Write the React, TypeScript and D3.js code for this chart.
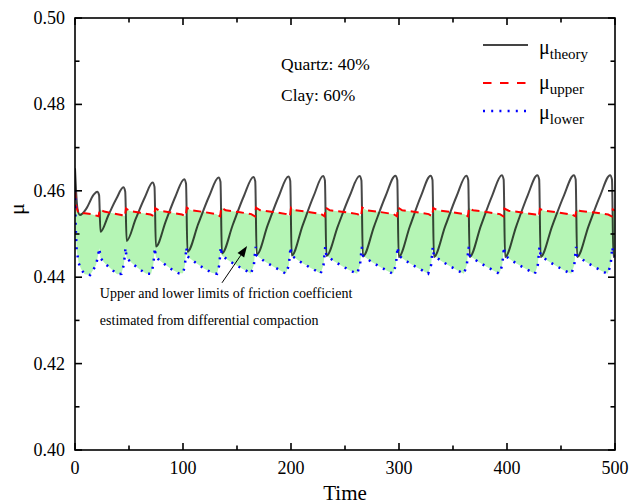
import React, { useEffect, useRef } from "react";
import * as d3 from "d3";

// [time, mu]
const theory: [number, number][] = [
  [0, 0.4652], [1, 0.46], [2.2, 0.456], [4.6, 0.4544], [10.8, 0.456], [17, 0.459], [20.6, 0.4598], [22.3, 0.459],
  [23.6, 0.4505], [31.0, 0.4544], [38.4, 0.4582], [44.8, 0.4608], [46.5, 0.4598],
  [47.8, 0.4484], [56.2, 0.4535], [64.7, 0.4585], [71.9, 0.4619], [73.6, 0.4609],
  [74.9, 0.4471], [84.1, 0.453], [93.2, 0.4588], [101.1, 0.4627], [102.8, 0.4617],
  [104.1, 0.4459], [114.2, 0.4524], [124.3, 0.4588], [133.0, 0.4631], [134.7, 0.4621],
  [136.0, 0.4455], [146.2, 0.4522], [156.4, 0.4588], [165.2, 0.4632], [166.9, 0.4622],
  [168.2, 0.4452], [178.5, 0.4521], [188.8, 0.4588], [197.6, 0.4633], [199.3, 0.4623],
  [200.6, 0.445], [210.8, 0.452], [221.0, 0.4588], [229.7, 0.4634], [231.4, 0.4624],
  [232.7, 0.4449], [243.5, 0.4519], [254.3, 0.4588], [263.5, 0.4634], [265.2, 0.4624],
  [266.5, 0.4448], [277.1, 0.4519], [287.6, 0.4588], [296.7, 0.4635], [298.4, 0.4625],
  [299.7, 0.4447], [310.1, 0.4518], [320.4, 0.4588], [329.3, 0.4635], [331.0, 0.4625],
  [332.3, 0.4447], [342.8, 0.4518], [353.4, 0.4588], [362.4, 0.4635], [364.1, 0.4625],
  [365.4, 0.4447], [375.8, 0.4519], [386.3, 0.4589], [395.2, 0.4636], [396.9, 0.4626],
  [398.2, 0.4447], [408.7, 0.4519], [419.1, 0.4589], [428.1, 0.4636], [429.8, 0.4626],
  [431.1, 0.4447], [441.9, 0.4519], [452.7, 0.4589], [461.9, 0.4636], [463.6, 0.4626],
  [464.9, 0.4447], [475.6, 0.4519], [486.3, 0.4589], [495.5, 0.4636], [497.2, 0.4626],
  [498.5, 0.4447], [500, 0.4452],
];

const upper: [number, number][] = [
  [0, 0.4598], [1, 0.4565], [3, 0.4549], [9, 0.4548], [15, 0.4546], [21.8, 0.4541],
  [23.0, 0.4557], [27, 0.4552], [35, 0.4548], [43, 0.4544], [46.2, 0.4541],
  [47.2, 0.4559], [51, 0.4553], [60.5, 0.4549], [70, 0.4545], [73.3, 0.4541],
  [74.3, 0.456], [78, 0.4554], [88.7, 0.455], [99, 0.4545], [102.5, 0.4541],
  [103.5, 0.4561], [107.5, 0.4555], [119.2, 0.4551], [131, 0.4546], [134.4, 0.4541],
  [135.4, 0.4561], [139.5, 0.4555], [151.3, 0.4551], [163.2, 0.4546], [166.6, 0.4541],
  [167.6, 0.4561], [171.5, 0.4555], [183.6, 0.4551], [195.8, 0.4546], [199.0, 0.4541],
  [200.0, 0.4561], [204, 0.4555], [215.9, 0.4551], [227.9, 0.4546], [231.1, 0.4541],
  [232.1, 0.4561], [236, 0.4555], [248.8, 0.4551], [261.7, 0.4546], [264.9, 0.4541],
  [265.9, 0.4561], [270, 0.4555], [282.3, 0.4551], [294.9, 0.4546], [298.1, 0.4541],
  [299.1, 0.4561], [303, 0.4555], [315.2, 0.4551], [327.5, 0.4546], [330.7, 0.4541],
  [331.7, 0.456], [335.5, 0.4555], [348, 0.4551], [360.6, 0.4546], [363.8, 0.4541],
  [364.8, 0.456], [368.5, 0.4555], [381, 0.4551], [393.4, 0.4546], [396.6, 0.4541],
  [397.6, 0.4559], [401.5, 0.4554], [413.8, 0.455], [426.3, 0.4545], [429.5, 0.4541],
  [430.5, 0.4558], [434.5, 0.4554], [447.2, 0.455], [460.1, 0.4545], [463.3, 0.4541],
  [464.3, 0.4557], [468, 0.4553], [480.9, 0.455], [493.7, 0.4545], [496.9, 0.4541],
  [497.9, 0.4557], [500, 0.4554],
];

const lower: [number, number][] = [
  [0, 0.4602], [0.6, 0.452], [1.5, 0.4463], [3.5, 0.4432], [6, 0.4417], [9, 0.4407], [14, 0.4405], [19.5, 0.4428], [22.6, 0.4467],
  [23.6, 0.4444], [28.5, 0.443], [34, 0.4418], [39, 0.4407], [43, 0.4408], [45.3, 0.443], [46.8, 0.4468],
  [47.8, 0.4444], [54, 0.443], [60, 0.4418], [66, 0.4408], [70.5, 0.4408], [72.5, 0.4428], [73.9, 0.4468],
  [74.9, 0.4446], [82, 0.4432], [89, 0.4419], [96, 0.4409], [100, 0.4409], [101.8, 0.4428], [103.1, 0.4469],
  [104.1, 0.4448], [111.5, 0.4434], [119, 0.4421], [127, 0.441], [131.5, 0.4408], [133.6, 0.4428], [135.0, 0.447],
  [136.0, 0.445], [143.2, 0.4437], [151.2, 0.4425], [159.2, 0.4414], [162.9, 0.4408], [165.6, 0.4428], [167.2, 0.447],
  [168.2, 0.445], [175.4, 0.4437], [183.4, 0.4425], [191.4, 0.4414], [195.3, 0.4408], [198.0, 0.4428], [199.6, 0.447],
  [200.6, 0.445], [207.8, 0.4437], [215.8, 0.4425], [223.8, 0.4414], [227.4, 0.4408], [230.1, 0.4428], [231.7, 0.447],
  [232.7, 0.445], [239.9, 0.4437], [247.9, 0.4425], [255.9, 0.4414], [261.2, 0.4408], [263.9, 0.4428], [265.5, 0.447],
  [266.5, 0.445], [273.7, 0.4437], [281.7, 0.4425], [289.7, 0.4414], [294.4, 0.4408], [297.1, 0.4428], [298.7, 0.447],
  [299.7, 0.445], [306.9, 0.4437], [314.9, 0.4425], [322.9, 0.4414], [327.0, 0.4408], [329.7, 0.4428], [331.3, 0.447],
  [332.3, 0.445], [339.5, 0.4437], [347.5, 0.4425], [355.5, 0.4414], [360.1, 0.4408], [362.8, 0.4428], [364.4, 0.447],
  [365.4, 0.445], [372.6, 0.4437], [380.6, 0.4425], [388.6, 0.4414], [392.9, 0.4408], [395.6, 0.4428], [397.2, 0.447],
  [398.2, 0.445], [405.4, 0.4437], [413.4, 0.4425], [421.4, 0.4414], [425.8, 0.4408], [428.5, 0.4428], [430.1, 0.447],
  [431.1, 0.445], [438.3, 0.4437], [446.3, 0.4425], [454.3, 0.4414], [459.6, 0.4408], [462.3, 0.4428], [463.9, 0.447],
  [464.9, 0.445], [472.1, 0.4437], [480.1, 0.4425], [488.1, 0.4414], [493.2, 0.4408], [495.9, 0.4428], [497.5, 0.447],
  [498.5, 0.445], [500, 0.4448],
];

const xTicks = [0, 100, 200, 300, 400, 500];
const xMinor = [50, 150, 250, 350, 450];
const yTicks = [0.4, 0.42, 0.44, 0.46, 0.48, 0.5];
const yMinor = [0.41, 0.43, 0.45, 0.47, 0.49];

const legendItems = [
  { sub: "theory", color: "#444", dash: null, width: 1.8, lineY: 45, textY: 54 },
  { sub: "upper", color: "#ff0000", dash: "8.5,8.5", width: 2, lineY: 83, textY: 89 },
  { sub: "lower", color: "#0000ff", dash: "2,6.2", width: 2.5, lineY: 111, textY: 119 },
];
const notes = ["Quartz: 40%", "Clay: 60%"];
const arrowNote = ["Upper and lower limits of friction coefficient", "estimated from differential compaction"];

const FONT = "Liberation Serif, DejaVu Serif, serif";

const App = () => {
  const svgRef = useRef<SVGSVGElement>(null);

  useEffect(() => {
    const left = 75, right = 615, top = 18, bottom = 450;
    const x = d3.scaleLinear().domain([0, 500]).range([left, right]);
    const y = d3.scaleLinear().domain([0.4, 0.5]).range([bottom, top]);

    const svg = d3.select(svgRef.current);
    svg.selectAll("*").remove();

    svg.append("defs").append("clipPath").attr("id", "plotClip")
      .append("rect").attr("x", left).attr("y", top).attr("width", right - left).attr("height", bottom - top);

    const plot = svg.append("g").attr("clip-path", "url(#plotClip)");

    const line = d3.line<[number, number]>().x((d) => x(d[0])).y((d) => y(d[1]));
    const smooth = d3.line<[number, number]>().x((d) => x(d[0])).y((d) => y(d[1])).curve(d3.curveMonotoneX);

    // green band between upper and lower limits
    const band = [...upper, ...lower.slice().reverse()];
    plot.append("path").attr("d", line(band) + "Z").attr("fill", "#b5f5b5").attr("stroke", "none");

    plot.append("path").attr("d", smooth(theory)).attr("fill", "none")
      .attr("stroke", "rgba(0,0,0,0.72)").attr("stroke-width", 2);

    plot.append("path").attr("d", line(upper)).attr("fill", "none")
      .attr("stroke", "#ff0000").attr("stroke-width", 2).attr("stroke-dasharray", "8,5");

    plot.append("path").attr("d", line(lower)).attr("fill", "none")
      .attr("stroke", "#0000ff").attr("stroke-width", 2.5).attr("stroke-dasharray", "2,6.2");

    // frame and inward ticks
    const frame = svg.append("g").attr("stroke", "#000").attr("stroke-width", 1.6);
    frame.append("rect").attr("x", left).attr("y", top).attr("width", right - left).attr("height", bottom - top).attr("fill", "none");
    const major = 7, minor = 4.5;
    xTicks.concat(xMinor).forEach((t) => {
      const len = xTicks.includes(t) ? major : minor;
      frame.append("line").attr("x1", x(t)).attr("x2", x(t)).attr("y1", bottom).attr("y2", bottom - len);
      frame.append("line").attr("x1", x(t)).attr("x2", x(t)).attr("y1", top).attr("y2", top + len);
    });
    yTicks.concat(yMinor).forEach((v) => {
      const len = yTicks.includes(v) ? major : minor;
      frame.append("line").attr("x1", left).attr("x2", left + len).attr("y1", y(v)).attr("y2", y(v));
      frame.append("line").attr("x1", right).attr("x2", right - len).attr("y1", y(v)).attr("y2", y(v));
    });

    const txt = svg.append("g").attr("font-family", FONT).attr("fill", "#000");

    // tick labels
    txt.append("g").selectAll("text").data(xTicks).enter().append("text")
      .attr("x", (d) => x(d)).attr("y", 474).attr("text-anchor", "middle")
      .attr("font-size", 18).text((d) => d3.format("d")(d));
    txt.append("g").selectAll("text").data(yTicks).enter().append("text")
      .attr("x", 65).attr("y", (d) => y(d) + 6).attr("text-anchor", "end")
      .attr("font-size", 18).text((d) => d3.format(".2f")(d));

    // axis titles
    txt.append("text").attr("x", (left + right) / 2).attr("y", 500).attr("text-anchor", "middle")
      .attr("font-size", 21).text("Time");
    txt.append("text").attr("transform", "translate(24,209) rotate(-90)").attr("text-anchor", "middle")
      .attr("font-size", 22).text("μ");

    // composition note
    notes.forEach((n, i) => {
      txt.append("text").attr("x", 281).attr("y", 70 + i * 31).attr("font-size", 17.5).text(n);
    });

    // arrow note
    arrowNote.forEach((n, i) => {
      txt.append("text").attr("x", x(23)).attr("y", 298 + i * 27).attr("font-size", 14).text(n);
    });
    const tail = [x(136.1), y(0.4387)];
    const tip = [x(159.3), y(0.4472)];
    const ang = Math.atan2(tip[1] - tail[1], tip[0] - tail[0]);
    const hl = 11, hw = 4;
    const bx = tip[0] - hl * Math.cos(ang), by = tip[1] - hl * Math.sin(ang);
    svg.append("line").attr("x1", tail[0]).attr("y1", tail[1]).attr("x2", bx).attr("y2", by)
      .attr("stroke", "#000").attr("stroke-width", 1);
    svg.append("path")
      .attr("d", `M${tip[0]},${tip[1]}L${bx + hw * Math.sin(ang)},${by - hw * Math.cos(ang)}L${bx - hw * Math.sin(ang)},${by + hw * Math.cos(ang)}Z`)
      .attr("fill", "#000");

    // legend
    const lg = svg.append("g");
    legendItems.forEach((it) => {
      lg.append("line").attr("x1", 483).attr("x2", 528).attr("y1", it.lineY).attr("y2", it.lineY)
        .attr("stroke", it.color).attr("stroke-width", it.width)
        .attr("stroke-dasharray", it.dash);
      const t = txt.append("text").attr("x", 539).attr("y", it.textY);
      t.append("tspan").attr("font-size", 20).text("μ");
      t.append("tspan").attr("font-size", 15).attr("dy", 5).text(it.sub);
    });
  }, []);

  return (
    <div style={{ position: "absolute", left: 0, top: 0, background: "#fff" }}>
      <svg ref={svgRef} width={630} height={504} style={{ display: "block" }}></svg>
    </div>
  );
};

export default App;
